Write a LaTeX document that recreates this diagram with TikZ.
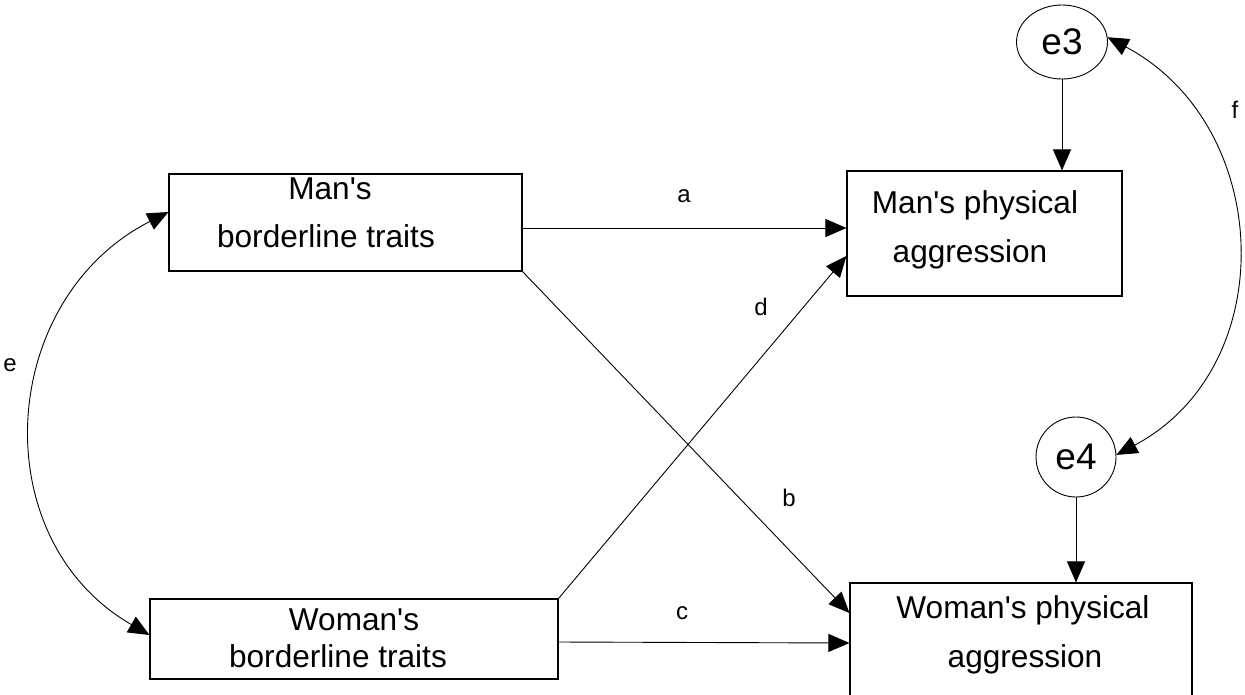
\documentclass[tikz,border=0pt]{standalone}
\usepackage{fontspec}
\setmainfont{Liberation Sans}
\usetikzlibrary{arrows.meta,shapes.geometric}
\newcommand{\sq}{\textquotesingle}
\tikzset{
  box/.style={draw, line width=1.1pt, rectangle, inner sep=0pt},
  boxtext/.style={anchor=base, inner sep=0pt, font=\fontsize{31.6pt}{38pt}\selectfont},
  errnode/.style={draw, line width=0.9pt, inner sep=0pt, font=\fontsize{37pt}{44pt}\selectfont},
  lab/.style={inner sep=0pt, font=\fontsize{24pt}{29pt}\selectfont},
  arr/.style={line width=0.9pt, -{Triangle[length=21pt,width=18pt]}},
  darr/.style={line width=0.9pt, {Triangle[length=21pt,width=18pt]}-{Triangle[length=21pt,width=18pt]}}
}
\begin{document}
\begin{tikzpicture}[x=1pt,y=-1pt]
\clip (0,0) rectangle (1245,694);
\fill[white] (0,0) rectangle (1245,694);
% boxes
\node[box, minimum width=353pt, minimum height=97pt] (mb) at (345.5,222.5) {};
\node[box, minimum width=408pt, minimum height=80pt] (wb) at (354,639) {};
\node[box, minimum width=275pt, minimum height=125pt] (mp) at (984.5,233.5) {};
\node[box, minimum width=342pt, minimum height=125pt] (wp) at (1021,645.5) {};
% box texts
\node[boxtext] (mb1) at (330,199) {Man\sq s};
\node[boxtext] (mb2) at (326,247) {borderline traits};
\node[boxtext] (wb1) at (354,630) {Woman\sq s};
\node[boxtext] (wb2) at (338,667) {borderline traits};
\node[boxtext] (mp1) at (975,213) {Man\sq s physical};
\node[boxtext] (mp2) at (970,262) {aggression};
\node[boxtext] (wp1) at (1023,618) {Woman\sq s physical};
\node[boxtext] (wp2) at (1025,667) {aggression};
% error terms
\node[errnode, ellipse, minimum width=91pt, minimum height=74pt] (e3) at (1062,42) {e3};
\node[errnode, circle, minimum size=80pt] (e4) at (1076,457) {e4};
% paths
\draw[arr] ([yshift=-5.5pt]mb.east) -- ([yshift=5.5pt]mp.west);
\draw[arr] (mb.south east) -- ([yshift=32.5pt]wp.west);
\draw[arr] ([yshift=-3pt]wb.east) -- ([yshift=2.5pt]wp.west);
\draw[arr] (wb.north east) -- ([yshift=-22.5pt]mp.west);
\draw[arr] (e3.south) -- (e3.south |- mp.north);
\draw[arr] (e4.south) -- (e4.south |- wp.north);
\draw[darr] ([yshift=10.5pt]mb.west) to[out=207, in=150, looseness=1.16] ([yshift=4pt]wb.west);
\draw[darr] (e3.6) to[out=-28, in=28, looseness=1.15] (e4.3);
% labels
\node[lab] (la) at (684,196) {a};
\node[lab] (lb) at (789,498) {b};
\node[lab] (lc) at (682,613) {c};
\node[lab] (ld) at (761,307) {d};
\node[lab] (le) at (10,365) {e};
\node[lab] (lf) at (1235,110) {f};
\end{tikzpicture}
\end{document}
